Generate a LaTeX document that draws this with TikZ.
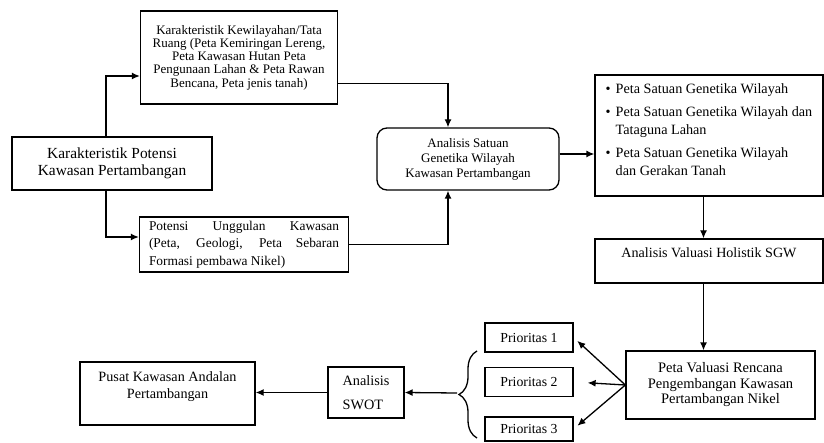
\documentclass[tikz,border=0pt]{standalone}
\usepackage{fontspec}
\setmainfont{Liberation Serif}
\usepackage{tikz}
\usetikzlibrary{arrows.meta,positioning,decorations.pathreplacing}
\hbadness=10000

\begin{document}
\begin{tikzpicture}[x=1pt,y=-1pt,
  kotak/.style={rectangle,draw=black,line width=1.3pt,inner sep=3pt,align=center},
  prioritas/.style={kotak,minimum width=88pt,minimum height=29pt,
                    font={\fontsize{13.8}{16}\selectfont}},
  panah/.style={line width=1.3pt,-{Latex[length=8pt,width=7pt]}},
  garis/.style={line width=1.3pt}]

  \useasboundingbox (0,0) rectangle (824,443);

  % baris atas
  \node[kotak,minimum width=197pt,minimum height=93pt,font={\fontsize{13}{13.3}\selectfont}]
    (kewilayahan) at (239,57.5)
    {Karakteristik Kewilayahan/Tata\\Ruang (Peta Kemiringan Lereng,\\Peta Kawasan Hutan Peta\\
     Pengunaan Lahan \& Peta Rawan\\Bencana, Peta jenis tanah)};
  \node[kotak,minimum width=200pt,minimum height=53pt,font={\fontsize{15.4}{16.7}\selectfont}]
    (potensi) at (112,163.5) {Karakteristik Potensi\\Kawasan Pertambangan};
  \node[kotak,minimum width=209pt,minimum height=55pt,text width=190pt,align=justify,
        font={\fontsize{13.4}{17.5}\selectfont}]
    (unggulan) at (244,244.5)
    {Potensi Unggulan Kawasan\linebreak (Peta, Geologi, Peta Sebaran\linebreak Formasi pembawa Nikel)};
  \node[kotak,rounded corners=10pt,minimum width=182pt,minimum height=62pt,
        font={\fontsize{13}{15}\selectfont}]
    (analisis) at (468,159) {Analisis Satuan\\Genetika Wilayah\\Kawasan Pertambangan};
  \node[kotak,minimum width=228pt,minimum height=121pt,align=left,
        font={\fontsize{14.2}{18}\selectfont}]
    (peta) at (709,135.5)
    {\makebox[10pt][l]{\textbullet}Peta Satuan Genetika Wilayah\\[5pt]
     \makebox[10pt][l]{\textbullet}Peta Satuan Genetika Wilayah dan\\
     \hspace*{10pt}Tataguna Lahan\\[5pt]
     \makebox[10pt][l]{\textbullet}Peta Satuan Genetika Wilayah\\
     \hspace*{10pt}dan Gerakan Tanah\\[-6pt]\mbox{}};
  \node[kotak,minimum width=228pt,minimum height=44pt,font={\fontsize{14.1}{17}\selectfont}]
    (valuasi) at (709,261) {Analisis Valuasi Holistik SGW\\\mbox{}};

  % baris bawah
  \node[kotak,minimum width=189pt,minimum height=68pt,font={\fontsize{14.5}{15.5}\selectfont}]
    (petaval) at (720.5,385) {Peta Valuasi Rencana\\Pengembangan Kawasan\\Pertambangan Nikel};
  \node[prioritas] (prio1) at (529,337.5) {Prioritas 1};
  \node[prioritas] (prio2) at (529,382) {Prioritas 2};
  \node[prioritas,minimum height=24pt] (prio3) at (529,429) {Prioritas 3};
  \node[kotak,minimum width=76pt,minimum height=51pt,align=left,
        font={\fontsize{14.3}{24}\selectfont}]
    (swot) at (366,392.5) {Analisis\\SWOT};
  \node[kotak,minimum width=175pt,minimum height=63pt,font={\fontsize{14.2}{17}\selectfont}]
    (pusat) at (167.5,393.5) {Pusat Kawasan Andalan\\Pertambangan\\\mbox{}};

  \draw[garis,decorate,decoration={brace,amplitude=18pt}] (477,438) -- (477,351);
  \coordinate (ujung) at (457,393);

  % panah
  \draw[panah] ([xshift=-6pt]potensi.north) |- ([yshift=-18.5pt]kewilayahan.west);
  \draw[panah] ([xshift=-6pt]potensi.south) |- ([yshift=7.5pt]unggulan.west);
  \draw[panah] ([yshift=-26pt]kewilayahan.east) -| ([xshift=-20pt]analisis.north);
  \draw[panah] (unggulan.east) -| ([xshift=-20pt]analisis.south);
  \draw[panah] ([yshift=5pt]analisis.east) -- ([yshift=5pt]analisis.east -| peta.west);
  \draw[panah] ([xshift=-5.5pt]peta.south) -- ([xshift=-5.5pt]valuasi.north);
  \draw[panah] ([xshift=-5.5pt]valuasi.south) -- ([xshift=-5.5pt]valuasi.south |- petaval.north);
  \draw[panah,shorten >=5pt] (petaval.west) -- (prio1.east);
  \draw[panah,shorten >=14pt] (petaval.west) -- (prio2.east);
  \draw[panah,shorten >=5pt] (petaval.west) -- (prio3.east);
  \draw[panah] (ujung) -- (swot.east);
  \draw[panah] (swot.west) -- (swot.west -| pusat.east);
\end{tikzpicture}
\end{document}
